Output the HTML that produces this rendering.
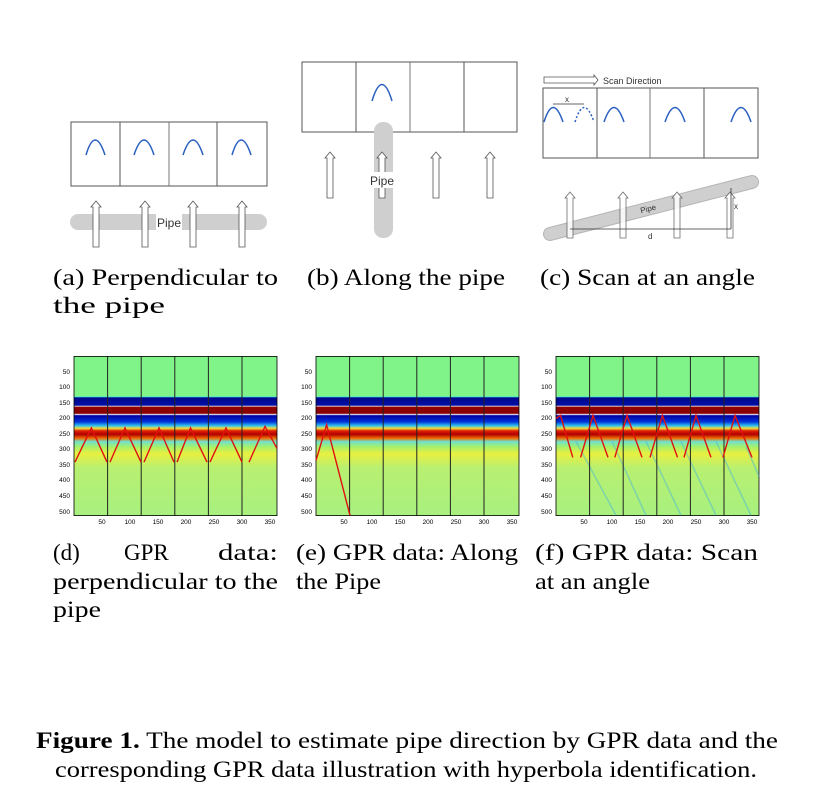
<!DOCTYPE html>
<html><head><meta charset="utf-8"><style>
html,body{margin:0;padding:0;background:#fff;}
svg{display:block;}
.cap{font-family:"Liberation Serif",serif;font-size:23px;fill:#000;}
.tk{font-family:"Liberation Sans",sans-serif;font-size:6.5px;fill:#000;}
.lab{font-family:"Liberation Sans",sans-serif;fill:#333;}
</style></head><body>
<svg width="825" height="801" viewBox="0 0 825 801" xmlns="http://www.w3.org/2000/svg">
<defs>
<linearGradient id="g" x1="0" y1="0" x2="0" y2="1">
<stop offset="0" stop-color="#80f488"/>
<stop offset="0.25" stop-color="#80f488"/>
<stop offset="0.254" stop-color="#40e0e8"/>
<stop offset="0.26" stop-color="#00088a"/>
<stop offset="0.308" stop-color="#0010a8"/>
<stop offset="0.312" stop-color="#ffffff"/>
<stop offset="0.318" stop-color="#900000"/>
<stop offset="0.358" stop-color="#880000"/>
<stop offset="0.364" stop-color="#ffffff"/>
<stop offset="0.372" stop-color="#0000a0"/>
<stop offset="0.41" stop-color="#0030d8"/>
<stop offset="0.435" stop-color="#30c0f0"/>
<stop offset="0.452" stop-color="#f0e040"/>
<stop offset="0.468" stop-color="#e02000"/>
<stop offset="0.49" stop-color="#b00000"/>
<stop offset="0.515" stop-color="#f07000"/>
<stop offset="0.535" stop-color="#70e0d0"/>
<stop offset="0.565" stop-color="#a0f070"/>
<stop offset="0.61" stop-color="#e8f040"/>
<stop offset="0.7" stop-color="#b8f070"/>
<stop offset="1" stop-color="#a8f080"/>
</linearGradient>
<g id="up">
<path d="M-3,0 V-40 H-5 L0,-46 L5,-40 H3 V0 Z" fill="#fff" stroke="#555" stroke-width="0.8"/>
</g>
</defs>

<!-- (a) -->
<rect x="70" y="214" width="197" height="16" rx="8" fill="#cfcfcf"/>
<rect x="71" y="122" width="196" height="64" fill="none" stroke="#555" stroke-width="1"/>
<line x1="120" y1="122" x2="120" y2="186" stroke="#555"/>
<line x1="169" y1="122" x2="169" y2="186" stroke="#777"/>
<line x1="217" y1="122" x2="217" y2="186" stroke="#555"/>
<g fill="none" stroke="#2b5fc0" stroke-width="1.5">
<path d="M86,155 Q95,125 105,155"/><path d="M134,155 Q144,125 154,155"/>
<path d="M183,155 Q193,125 203,155"/><path d="M232,155 Q241,125 251,155"/>
</g>
<use href="#up" x="96" y="247"/><use href="#up" x="145" y="247"/>
<use href="#up" x="193" y="247"/><use href="#up" x="242" y="247"/>
<rect x="156" y="214" width="26" height="16" fill="#fff"/>
<text x="157" y="227" class="lab" font-size="12">Pipe</text>

<!-- (b) -->
<rect x="302" y="62" width="215" height="70" fill="none" stroke="#555"/>
<line x1="356" y1="62" x2="356" y2="132" stroke="#555"/>
<line x1="410" y1="62" x2="410" y2="132" stroke="#777"/>
<line x1="464" y1="62" x2="464" y2="132" stroke="#555"/>
<path d="M372,101 Q382,68 392,101" fill="none" stroke="#2b5fc0" stroke-width="1.5"/>
<rect x="374" y="122" width="19" height="116" rx="9" fill="#cfcfcf"/>
<use href="#up" x="330" y="198"/><use href="#up" x="382" y="198"/>
<use href="#up" x="436" y="198"/><use href="#up" x="490" y="198"/>
<rect x="369" y="172" width="30" height="16" fill="#fff"/>
<text x="370" y="185" class="lab" font-size="12">Pipe</text>

<!-- (c) -->
<path d="M544,77 H594 V75 L598,80 L594,85 V83 H544 Z" fill="#fff" stroke="#555" stroke-width="0.8"/>
<text x="603" y="84" class="lab" font-size="9">Scan Direction</text>
<rect x="543" y="88" width="215" height="70" fill="none" stroke="#555"/>
<line x1="597" y1="88" x2="597" y2="158" stroke="#555"/>
<line x1="650" y1="88" x2="650" y2="158" stroke="#777"/>
<line x1="704" y1="88" x2="704" y2="158" stroke="#555"/>
<g fill="none" stroke="#2b5fc0" stroke-width="1.5">
<path d="M544,122 Q553,93 563,122"/>
<path d="M575,122 Q584,93 594,122" stroke-dasharray="2,2"/>
<path d="M604,122 Q614,93 624,122"/>
<path d="M665,122 Q675,93 685,122"/>
<path d="M731,122 Q741,93 751,122"/>
</g>
<line x1="553" y1="104" x2="584" y2="104" stroke="#333" stroke-width="0.8"/>
<text x="565" y="102" class="lab" font-size="8">x</text>
<line x1="550" y1="234" x2="752" y2="182" stroke="#b5b5b5" stroke-width="14" stroke-linecap="round"/>
<line x1="550" y1="234" x2="752" y2="182" stroke="#cfcfcf" stroke-width="12" stroke-linecap="round"/>
<g opacity="0.85">
<use href="#up" x="570" y="238"/><use href="#up" x="623" y="238"/>
<use href="#up" x="677" y="238"/><use href="#up" x="730" y="238"/>
</g>
<line x1="570" y1="229" x2="731" y2="229" stroke="#333" stroke-width="0.8"/>
<line x1="731" y1="188" x2="731" y2="229" stroke="#333" stroke-width="0.8"/>
<text x="734" y="209" class="lab" font-size="8">x</text>
<text x="648" y="239" class="lab" font-size="8">d</text>
<text x="640" y="211" class="lab" font-size="8" transform="rotate(-14.5 650 208)">Pipe</text>

<!-- captions top -->
<text class="cap" x="53" y="285" textLength="225" lengthAdjust="spacingAndGlyphs">(a)  Perpendicular  to</text>
<text class="cap" x="53" y="313" textLength="112" lengthAdjust="spacingAndGlyphs">the pipe</text>
<text class="cap" x="307" y="285" textLength="198" lengthAdjust="spacingAndGlyphs">(b)  Along the pipe</text>
<text class="cap" x="540" y="285" textLength="215" lengthAdjust="spacingAndGlyphs">(c)  Scan at an angle</text>

<!-- plots -->
<g transform="translate(74,356.4)">
<rect x="0" y="0" width="203" height="159.2" fill="url(#g)" stroke="#000" stroke-width="0.8"/>
<g stroke="#222" stroke-width="1"><line x1="33.6" y1="0" x2="33.6" y2="159"/><line x1="67.2" y1="0" x2="67.2" y2="159"/><line x1="100.8" y1="0" x2="100.8" y2="159"/><line x1="134.4" y1="0" x2="134.4" y2="159"/><line x1="168" y1="0" x2="168" y2="159"/></g>
<g fill="none" stroke="#e01010" stroke-width="1.4">
<polyline points="1,105.7 17.4,71.5 33,105.7"/>
<polyline points="36,105.7 51,71.5 67,105.7"/>
<polyline points="70,105.7 85,71.5 100,105.7"/>
<polyline points="103,105.7 116.5,71.5 133,105.7"/>
<polyline points="136,105.7 152,71.5 168,105.7"/>
<polyline points="175,105.7 191,70 203,92"/>
</g>
</g>
<g transform="translate(316,356.4)">
<rect x="0" y="0" width="203" height="159.2" fill="url(#g)" stroke="#000" stroke-width="0.8"/>
<g stroke="#222" stroke-width="1"><line x1="33.6" y1="0" x2="33.6" y2="159"/><line x1="67.2" y1="0" x2="67.2" y2="159"/><line x1="100.8" y1="0" x2="100.8" y2="159"/><line x1="134.4" y1="0" x2="134.4" y2="159"/><line x1="168" y1="0" x2="168" y2="159"/></g>
<polyline points="0,104 10.6,68.4 34,159" fill="none" stroke="#e01010" stroke-width="1.4"/>
</g>
<g transform="translate(556,356.4)">
<rect x="0" y="0" width="203" height="159.2" fill="url(#g)" stroke="#000" stroke-width="0.8"/>
<g fill="none" stroke="#40b0e0" stroke-width="1.5" opacity="0.45">
<path d="M20,85 L60,159"/><path d="M56,85 L90,159"/><path d="M90,85 L125,159"/><path d="M125,85 L160,159"/><path d="M160,85 L195,159"/><path d="M190,90 L203,120"/>
</g>
<g stroke="#222" stroke-width="1"><line x1="33.6" y1="0" x2="33.6" y2="159"/><line x1="67.2" y1="0" x2="67.2" y2="159"/><line x1="100.8" y1="0" x2="100.8" y2="159"/><line x1="134.4" y1="0" x2="134.4" y2="159"/><line x1="168" y1="0" x2="168" y2="159"/></g>
<g fill="none" stroke="#e01010" stroke-width="1.4">
<polyline points="0,62 4.5,59 16.8,101"/>
<polyline points="24.6,101 37,59 52,101"/>
<polyline points="58.8,101 71,59 86,101"/>
<polyline points="94,101 106.4,59 121.5,101"/>
<polyline points="128,101 140,59 155,101"/>
<polyline points="167,101 179,59 196,101"/>
</g>
</g>

<!-- tick labels -->
<g class="tk" text-anchor="end">
<text x="70" y="374">50</text><text x="70" y="389">100</text><text x="70" y="405">150</text><text x="70" y="420">200</text><text x="70" y="436">250</text><text x="70" y="451">300</text><text x="70" y="467">350</text><text x="70" y="482">400</text><text x="70" y="498">450</text><text x="70" y="514">500</text>
<text x="312" y="374">50</text><text x="312" y="389">100</text><text x="312" y="405">150</text><text x="312" y="420">200</text><text x="312" y="436">250</text><text x="312" y="451">300</text><text x="312" y="467">350</text><text x="312" y="482">400</text><text x="312" y="498">450</text><text x="312" y="514">500</text>
<text x="552" y="374">50</text><text x="552" y="389">100</text><text x="552" y="405">150</text><text x="552" y="420">200</text><text x="552" y="436">250</text><text x="552" y="451">300</text><text x="552" y="467">350</text><text x="552" y="482">400</text><text x="552" y="498">450</text><text x="552" y="514">500</text>
</g>
<g class="tk" text-anchor="middle">
<text x="102" y="524">50</text><text x="130" y="524">100</text><text x="158" y="524">150</text><text x="186" y="524">200</text><text x="214" y="524">250</text><text x="242" y="524">300</text><text x="270" y="524">350</text>
<text x="344" y="524">50</text><text x="372" y="524">100</text><text x="400" y="524">150</text><text x="428" y="524">200</text><text x="456" y="524">250</text><text x="484" y="524">300</text><text x="512" y="524">350</text>
<text x="584" y="524">50</text><text x="612" y="524">100</text><text x="640" y="524">150</text><text x="668" y="524">200</text><text x="696" y="524">250</text><text x="724" y="524">300</text><text x="752" y="524">350</text>
</g>

<!-- captions bottom -->
<text class="cap" x="53" y="560">(d)</text>
<text class="cap" x="124" y="560">GPR</text>
<text class="cap" x="218" y="560" textLength="60" lengthAdjust="spacingAndGlyphs">data:</text>
<text class="cap" x="53" y="589" textLength="225" lengthAdjust="spacingAndGlyphs">perpendicular to the</text>
<text class="cap" x="53" y="617" textLength="48" lengthAdjust="spacingAndGlyphs">pipe</text>
<text class="cap" x="296" y="560" textLength="222" lengthAdjust="spacingAndGlyphs">(e) GPR data: Along</text>
<text class="cap" x="296" y="589" textLength="85" lengthAdjust="spacingAndGlyphs">the Pipe</text>
<text class="cap" x="535" y="560" textLength="223" lengthAdjust="spacingAndGlyphs">(f)  GPR data:  Scan</text>
<text class="cap" x="535" y="589" textLength="115" lengthAdjust="spacingAndGlyphs">at an angle</text>

<!-- figure caption -->
<text class="cap" x="36" y="748" textLength="742" lengthAdjust="spacingAndGlyphs"><tspan font-weight="bold">Figure 1.</tspan>    The model to estimate pipe direction by GPR data and the</text>
<text class="cap" x="55" y="777" textLength="702" lengthAdjust="spacingAndGlyphs">corresponding GPR data illustration with hyperbola identification.</text>
</svg>
</body></html>
